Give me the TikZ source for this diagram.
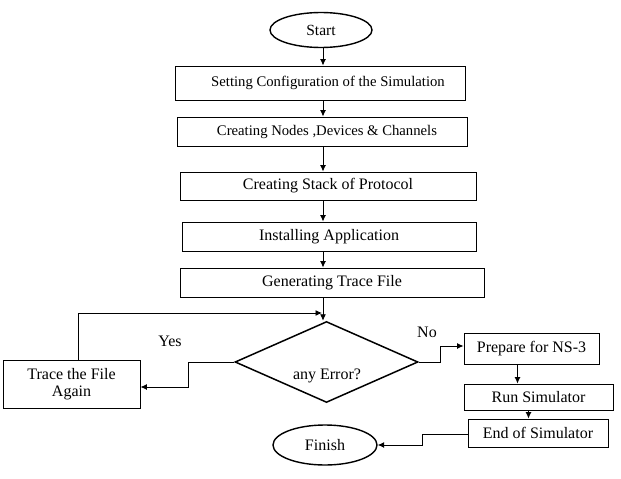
\documentclass[tikz,border=0pt]{standalone}
\usepackage{fontspec}
\setmainfont{Liberation Serif}
\usetikzlibrary{shapes.geometric,arrows.meta}
\tikzset{
  box/.style={draw, line width=0.9pt, inner sep=0pt, font=\fontsize{16}{17.5}\selectfont},
  topbox/.style={box, font=\fontsize{14.7}{16}\selectfont},
  oval/.style={draw, ellipse, line width=1.4pt, inner sep=0pt, font=\fontsize{16}{17.5}\selectfont},
  lbl/.style={inner sep=0pt, font=\fontsize{16}{17.5}\selectfont},
  arr/.style={line width=0.9pt, -{Latex[length=6.5pt,width=6pt]}},
}
\begin{document}
\begin{tikzpicture}[x=1pt,y=-1pt]
\useasboundingbox (0,0) rectangle (621,479);
\node[oval, minimum width=102pt, minimum height=35pt, font=\fontsize{15.5}{17}\selectfont] (start) at (321,30) {Start};
\node[topbox, minimum width=290pt, minimum height=34pt] (s1) at (320,83) {\hspace*{16pt}Setting Configuration of the Simulation};
\node[topbox, minimum width=290pt, minimum height=29pt] (s2) at (322,131.5) {\hspace*{10pt}Creating Nodes ,Devices \& Channels};
\node[box, minimum width=296pt, minimum height=28pt] (s3) at (328,186) {Creating Stack of Protocol};
\node[box, minimum width=294pt, minimum height=29pt] (s4) at (329,236.5) {Installing Application};
\node[box, minimum width=304pt, minimum height=29pt] (s5) at (332,282.5) {Generating Trace File};
\node[draw, diamond, line width=1.5pt, inner sep=0pt, minimum width=183pt, minimum height=81pt] (dia) at (326.5,362) {};
\node[lbl] (err) at (327,376) {any Error?};
\node[box, minimum width=137pt, minimum height=48pt, align=center] (trace) at (71.5,384) {Trace the File\\Again};
\node[box, minimum width=135pt, minimum height=31pt] (prep) at (531.5,348.5) {Prepare for NS-3};
\node[box, minimum width=149pt, minimum height=26pt] (run) at (538.5,397) {Run Simulator};
\node[box, minimum width=140pt, minimum height=28pt] (endsim) at (538,433) {End of Simulator};
\node[oval, minimum width=104pt, minimum height=40pt] (finish) at (325,445) {Finish};
\node[lbl] (yes) at (170,341) {Yes};
\node[lbl] (no) at (427,332) {No};
\coordinate (merge) at (323,313);
\coordinate (yesbend) at (188,362);
\coordinate (nobend) at (440,362);
\coordinate (endbend) at (422,433);
\coordinate (loopc) at (78,313);
\draw[arr] (start.south -| merge) -- (s1.north -| merge);
\draw[arr] (s1.south -| merge) -- (s2.north -| merge);
\draw[arr] (s2.south -| merge) -- (s3.north -| merge);
\draw[arr] (s3.south -| merge) -- (s4.north -| merge);
\draw[arr] (s4.south -| merge) -- (s5.north -| merge);
\draw[arr] (s5.south -| merge) -- (dia.north -| merge);
\draw[arr] (trace.north -| loopc) -- (loopc) -- ([xshift=-1pt]merge);
\draw[arr] (dia.west) -- (yesbend) |- ([yshift=-3pt]trace.east);
\draw[arr] (dia.east) -- (nobend) |- ([yshift=2.5pt]prep.west);
\draw[arr] ([xshift=-14pt]prep.south) -- ([xshift=-14pt]prep.south |- run.north);
\draw[arr] ([xshift=-10pt]run.south) -- ([xshift=-10pt]run.south |- endsim.north);
\draw[arr] ([yshift=-1.5pt]endsim.west) -- ([yshift=-1.5pt]endbend) |- (finish.east);
\end{tikzpicture}
\end{document}
